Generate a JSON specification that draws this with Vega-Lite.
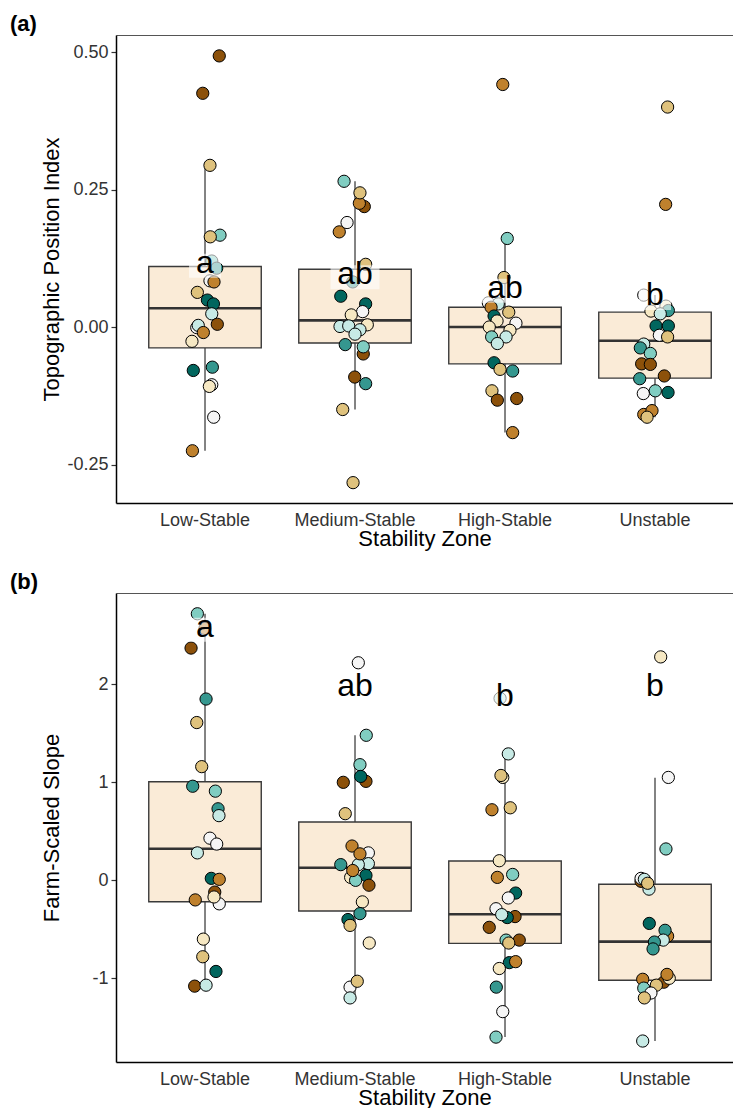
{
  "$schema": "https://vega.github.io/schema/vega-lite/v6.json",
  "background": "white",
  "padding": {"left": 10, "top": 13, "right": 0, "bottom": 0},
  "bounds": "flush",
  "spacing": 90,
  "config": {
    "font": "Liberation Sans",
    "view": {"stroke": null},
    "axis": {"grid": false},
    "axisLeft": {
      "domainColor": "black", "domainWidth": 1.5,
      "tickColor": "#333", "tickSize": 5, "tickWidth": 1.2,
      "labelFontSize": 18, "labelColor": "#333", "labelPadding": 3,
      "titleFontSize": 22, "titleFontWeight": "normal", "titleColor": "black",
      "titleBaseline": "alphabetic", "titleX": -58
    },
    "axisBottom": {
      "domainColor": "black", "domainWidth": 1.5,
      "ticks": false, "tickSize": 0,
      "labelFontSize": 18, "labelColor": "#333", "labelPadding": 8, "labelAngle": 0,
      "titleFontSize": 22, "titleFontWeight": "normal", "titleColor": "black",
      "titleBaseline": "alphabetic", "titleY": 42
    },
    "title": {"fontSize": 22, "fontWeight": "bold", "anchor": "start", "frame": "group", "baseline": "alphabetic", "offset": -1, "dx": -106, "color": "black"}
  },
  "datasets": {
    "tpi_boxes": [
      {"zone": "Low-Stable", "lower": -0.225, "q1": -0.038, "median": 0.034, "q3": 0.110, "upper": 0.294},
      {"zone": "Medium-Stable", "lower": -0.150, "q1": -0.029, "median": 0.012, "q3": 0.105, "upper": 0.265},
      {"zone": "High-Stable", "lower": -0.192, "q1": -0.067, "median": 0.000, "q3": 0.036, "upper": 0.161},
      {"zone": "Unstable", "lower": -0.164, "q1": -0.093, "median": -0.025, "q3": 0.027, "upper": 0.058}
    ],
    "tpi_labels": [
      {"zone": "Low-Stable", "letter": "a", "pos": 0.0988},
      {"zone": "Medium-Stable", "letter": "ab", "pos": 0.0776},
      {"zone": "High-Stable", "letter": "ab", "pos": 0.0533},
      {"zone": "Unstable", "letter": "b", "pos": 0.040}
    ],
    "tpi_points": [
      {"zone": "Low-Stable", "tpi": 0.493, "jitter": 0.095, "cls": 1},
      {"zone": "Low-Stable", "tpi": 0.425, "jitter": -0.015, "cls": 1},
      {"zone": "Low-Stable", "tpi": 0.294, "jitter": 0.033, "cls": 3},
      {"zone": "Low-Stable", "tpi": 0.167, "jitter": 0.100, "cls": 7},
      {"zone": "Low-Stable", "tpi": 0.164, "jitter": 0.035, "cls": 3},
      {"zone": "Low-Stable", "tpi": 0.120, "jitter": 0.045, "cls": 7},
      {"zone": "Low-Stable", "tpi": 0.107, "jitter": 0.078, "cls": 8},
      {"zone": "Low-Stable", "tpi": 0.084, "jitter": 0.033, "cls": 5},
      {"zone": "Low-Stable", "tpi": 0.082, "jitter": 0.060, "cls": 2},
      {"zone": "Low-Stable", "tpi": 0.063, "jitter": -0.051, "cls": 3},
      {"zone": "Low-Stable", "tpi": 0.049, "jitter": 0.016, "cls": 9},
      {"zone": "Low-Stable", "tpi": 0.042, "jitter": 0.056, "cls": 9},
      {"zone": "Low-Stable", "tpi": 0.024, "jitter": 0.045, "cls": 6},
      {"zone": "Low-Stable", "tpi": 0.005, "jitter": 0.082, "cls": 1},
      {"zone": "Low-Stable", "tpi": -0.001, "jitter": -0.055, "cls": 5},
      {"zone": "Low-Stable", "tpi": 0.003, "jitter": -0.045, "cls": 6},
      {"zone": "Low-Stable", "tpi": -0.010, "jitter": -0.011, "cls": 2},
      {"zone": "Low-Stable", "tpi": -0.026, "jitter": -0.087, "cls": 4},
      {"zone": "Low-Stable", "tpi": -0.079, "jitter": -0.078, "cls": 9},
      {"zone": "Low-Stable", "tpi": -0.073, "jitter": 0.049, "cls": 8},
      {"zone": "Low-Stable", "tpi": -0.105, "jitter": 0.045, "cls": 5},
      {"zone": "Low-Stable", "tpi": -0.108, "jitter": 0.029, "cls": 4},
      {"zone": "Low-Stable", "tpi": -0.164, "jitter": 0.058, "cls": 5},
      {"zone": "Low-Stable", "tpi": -0.225, "jitter": -0.084, "cls": 2},
      {"zone": "Medium-Stable", "tpi": 0.265, "jitter": -0.073, "cls": 7},
      {"zone": "Medium-Stable", "tpi": 0.219, "jitter": 0.062, "cls": 1},
      {"zone": "Medium-Stable", "tpi": 0.225, "jitter": 0.029, "cls": 2},
      {"zone": "Medium-Stable", "tpi": 0.244, "jitter": 0.033, "cls": 3},
      {"zone": "Medium-Stable", "tpi": 0.190, "jitter": -0.053, "cls": 5},
      {"zone": "Medium-Stable", "tpi": 0.173, "jitter": -0.105, "cls": 2},
      {"zone": "Medium-Stable", "tpi": 0.114, "jitter": 0.071, "cls": 3},
      {"zone": "Medium-Stable", "tpi": 0.082, "jitter": -0.015, "cls": 8},
      {"zone": "Medium-Stable", "tpi": 0.056, "jitter": -0.095, "cls": 9},
      {"zone": "Medium-Stable", "tpi": 0.042, "jitter": 0.071, "cls": 9},
      {"zone": "Medium-Stable", "tpi": 0.028, "jitter": 0.051, "cls": 5},
      {"zone": "Medium-Stable", "tpi": 0.022, "jitter": -0.025, "cls": 4},
      {"zone": "Medium-Stable", "tpi": 0.004, "jitter": 0.082, "cls": 4},
      {"zone": "Medium-Stable", "tpi": 0.001, "jitter": -0.100, "cls": 6},
      {"zone": "Medium-Stable", "tpi": 0.002, "jitter": -0.042, "cls": 6},
      {"zone": "Medium-Stable", "tpi": -0.005, "jitter": 0.033, "cls": 6},
      {"zone": "Medium-Stable", "tpi": -0.013, "jitter": 0.000, "cls": 6},
      {"zone": "Medium-Stable", "tpi": -0.032, "jitter": -0.065, "cls": 8},
      {"zone": "Medium-Stable", "tpi": -0.049, "jitter": 0.055, "cls": 1},
      {"zone": "Medium-Stable", "tpi": -0.036, "jitter": 0.055, "cls": 7},
      {"zone": "Medium-Stable", "tpi": -0.091, "jitter": -0.002, "cls": 1},
      {"zone": "Medium-Stable", "tpi": -0.103, "jitter": 0.071, "cls": 8},
      {"zone": "Medium-Stable", "tpi": -0.150, "jitter": -0.082, "cls": 3},
      {"zone": "Medium-Stable", "tpi": -0.283, "jitter": -0.013, "cls": 3},
      {"zone": "High-Stable", "tpi": 0.441, "jitter": -0.015, "cls": 2},
      {"zone": "High-Stable", "tpi": 0.161, "jitter": 0.015, "cls": 7},
      {"zone": "High-Stable", "tpi": 0.090, "jitter": -0.007, "cls": 3},
      {"zone": "High-Stable", "tpi": 0.044, "jitter": -0.111, "cls": 5},
      {"zone": "High-Stable", "tpi": 0.042, "jitter": -0.045, "cls": 6},
      {"zone": "High-Stable", "tpi": 0.036, "jitter": -0.093, "cls": 2},
      {"zone": "High-Stable", "tpi": 0.027, "jitter": 0.025, "cls": 3},
      {"zone": "High-Stable", "tpi": 0.020, "jitter": -0.073, "cls": 9},
      {"zone": "High-Stable", "tpi": 0.011, "jitter": -0.053, "cls": 4},
      {"zone": "High-Stable", "tpi": 0.007, "jitter": 0.073, "cls": 5},
      {"zone": "High-Stable", "tpi": 0.000, "jitter": -0.105, "cls": 4},
      {"zone": "High-Stable", "tpi": -0.006, "jitter": 0.033, "cls": 4},
      {"zone": "High-Stable", "tpi": -0.018, "jitter": -0.089, "cls": 7},
      {"zone": "High-Stable", "tpi": -0.018, "jitter": 0.007, "cls": 6},
      {"zone": "High-Stable", "tpi": -0.030, "jitter": -0.051, "cls": 6},
      {"zone": "High-Stable", "tpi": -0.065, "jitter": -0.073, "cls": 9},
      {"zone": "High-Stable", "tpi": -0.077, "jitter": -0.033, "cls": 3},
      {"zone": "High-Stable", "tpi": -0.080, "jitter": 0.051, "cls": 8},
      {"zone": "High-Stable", "tpi": -0.116, "jitter": -0.087, "cls": 3},
      {"zone": "High-Stable", "tpi": -0.133, "jitter": -0.051, "cls": 1},
      {"zone": "High-Stable", "tpi": -0.130, "jitter": 0.078, "cls": 1},
      {"zone": "High-Stable", "tpi": -0.192, "jitter": 0.051, "cls": 2},
      {"zone": "Unstable", "tpi": 0.400, "jitter": 0.084, "cls": 3},
      {"zone": "Unstable", "tpi": 0.223, "jitter": 0.071, "cls": 2},
      {"zone": "Unstable", "tpi": 0.058, "jitter": -0.075, "cls": 5},
      {"zone": "Unstable", "tpi": 0.029, "jitter": -0.027, "cls": 4},
      {"zone": "Unstable", "tpi": 0.038, "jitter": 0.073, "cls": 4},
      {"zone": "Unstable", "tpi": 0.030, "jitter": 0.089, "cls": 8},
      {"zone": "Unstable", "tpi": 0.024, "jitter": 0.035, "cls": 6},
      {"zone": "Unstable", "tpi": 0.002, "jitter": 0.007, "cls": 9},
      {"zone": "Unstable", "tpi": 0.002, "jitter": 0.089, "cls": 9},
      {"zone": "Unstable", "tpi": -0.015, "jitter": 0.029, "cls": 5},
      {"zone": "Unstable", "tpi": -0.018, "jitter": 0.084, "cls": 3},
      {"zone": "Unstable", "tpi": -0.031, "jitter": -0.075, "cls": 6},
      {"zone": "Unstable", "tpi": -0.038, "jitter": -0.098, "cls": 8},
      {"zone": "Unstable", "tpi": -0.048, "jitter": -0.031, "cls": 7},
      {"zone": "Unstable", "tpi": -0.067, "jitter": -0.089, "cls": 1},
      {"zone": "Unstable", "tpi": -0.068, "jitter": -0.031, "cls": 1},
      {"zone": "Unstable", "tpi": -0.089, "jitter": 0.062, "cls": 1},
      {"zone": "Unstable", "tpi": -0.094, "jitter": -0.102, "cls": 8},
      {"zone": "Unstable", "tpi": -0.121, "jitter": -0.078, "cls": 5},
      {"zone": "Unstable", "tpi": -0.116, "jitter": 0.002, "cls": 7},
      {"zone": "Unstable", "tpi": -0.119, "jitter": 0.087, "cls": 9},
      {"zone": "Unstable", "tpi": -0.159, "jitter": -0.075, "cls": 2},
      {"zone": "Unstable", "tpi": -0.152, "jitter": -0.020, "cls": 2},
      {"zone": "Unstable", "tpi": -0.164, "jitter": -0.053, "cls": 3}
    ],
    "slope_boxes": [
      {"zone": "Low-Stable", "lower": -1.08, "q1": -0.218, "median": 0.322, "q3": 1.006, "upper": 2.72},
      {"zone": "Medium-Stable", "lower": -1.20, "q1": -0.313, "median": 0.129, "q3": 0.595, "upper": 1.48},
      {"zone": "High-Stable", "lower": -1.60, "q1": -0.643, "median": -0.347, "q3": 0.197, "upper": 1.29},
      {"zone": "Unstable", "lower": -1.64, "q1": -1.02, "median": -0.626, "q3": -0.04, "upper": 1.047}
    ],
    "slope_labels": [
      {"zone": "Low-Stable", "letter": "a", "pos": 2.486},
      {"zone": "Medium-Stable", "letter": "ab", "pos": 1.88},
      {"zone": "High-Stable", "letter": "b", "pos": 1.78},
      {"zone": "Unstable", "letter": "b", "pos": 1.88}
    ],
    "slope_points": [
      {"zone": "Low-Stable", "slope": 2.72, "jitter": -0.051, "cls": 7},
      {"zone": "Low-Stable", "slope": 2.57, "jitter": 0.000, "cls": 2},
      {"zone": "Low-Stable", "slope": 2.37, "jitter": -0.093, "cls": 1},
      {"zone": "Low-Stable", "slope": 1.85, "jitter": 0.007, "cls": 8},
      {"zone": "Low-Stable", "slope": 1.61, "jitter": -0.055, "cls": 3},
      {"zone": "Low-Stable", "slope": 1.16, "jitter": -0.022, "cls": 3},
      {"zone": "Low-Stable", "slope": 0.96, "jitter": -0.082, "cls": 8},
      {"zone": "Low-Stable", "slope": 0.91, "jitter": 0.069, "cls": 7},
      {"zone": "Low-Stable", "slope": 0.73, "jitter": 0.087, "cls": 8},
      {"zone": "Low-Stable", "slope": 0.66, "jitter": 0.093, "cls": 6},
      {"zone": "Low-Stable", "slope": 0.43, "jitter": 0.033, "cls": 5},
      {"zone": "Low-Stable", "slope": 0.37, "jitter": 0.078, "cls": 5},
      {"zone": "Low-Stable", "slope": 0.28, "jitter": -0.051, "cls": 6},
      {"zone": "Low-Stable", "slope": 0.02, "jitter": 0.042, "cls": 9},
      {"zone": "Low-Stable", "slope": 0.01, "jitter": 0.095, "cls": 2},
      {"zone": "Low-Stable", "slope": -0.12, "jitter": 0.065, "cls": 1},
      {"zone": "Low-Stable", "slope": -0.24, "jitter": 0.095, "cls": 5},
      {"zone": "Low-Stable", "slope": -0.17, "jitter": 0.060, "cls": 4},
      {"zone": "Low-Stable", "slope": -0.20, "jitter": -0.065, "cls": 2},
      {"zone": "Low-Stable", "slope": -0.60, "jitter": -0.011, "cls": 4},
      {"zone": "Low-Stable", "slope": -0.78, "jitter": -0.015, "cls": 3},
      {"zone": "Low-Stable", "slope": -0.93, "jitter": 0.073, "cls": 9},
      {"zone": "Low-Stable", "slope": -1.08, "jitter": -0.069, "cls": 1},
      {"zone": "Low-Stable", "slope": -1.07, "jitter": 0.007, "cls": 6},
      {"zone": "Medium-Stable", "slope": 2.22, "jitter": 0.022, "cls": 5},
      {"zone": "Medium-Stable", "slope": 1.48, "jitter": 0.075, "cls": 7},
      {"zone": "Medium-Stable", "slope": 1.18, "jitter": 0.033, "cls": 7},
      {"zone": "Medium-Stable", "slope": 1.01, "jitter": 0.073, "cls": 1},
      {"zone": "Medium-Stable", "slope": 1.06, "jitter": 0.038, "cls": 9},
      {"zone": "Medium-Stable", "slope": 1.00, "jitter": -0.078, "cls": 1},
      {"zone": "Medium-Stable", "slope": 0.68, "jitter": -0.065, "cls": 3},
      {"zone": "Medium-Stable", "slope": 0.28, "jitter": 0.089, "cls": 5},
      {"zone": "Medium-Stable", "slope": 0.35, "jitter": -0.020, "cls": 2},
      {"zone": "Medium-Stable", "slope": 0.17, "jitter": 0.089, "cls": 6},
      {"zone": "Medium-Stable", "slope": 0.16, "jitter": 0.022, "cls": 6},
      {"zone": "Medium-Stable", "slope": 0.27, "jitter": 0.033, "cls": 2},
      {"zone": "Medium-Stable", "slope": 0.16, "jitter": -0.095, "cls": 8},
      {"zone": "Medium-Stable", "slope": 0.05, "jitter": 0.073, "cls": 9},
      {"zone": "Medium-Stable", "slope": 0.03, "jitter": -0.029, "cls": 4},
      {"zone": "Medium-Stable", "slope": 0.00, "jitter": 0.004, "cls": 7},
      {"zone": "Medium-Stable", "slope": 0.10, "jitter": -0.015, "cls": 2},
      {"zone": "Medium-Stable", "slope": -0.05, "jitter": 0.093, "cls": 1},
      {"zone": "Medium-Stable", "slope": -0.22, "jitter": 0.049, "cls": 4},
      {"zone": "Medium-Stable", "slope": -0.34, "jitter": 0.033, "cls": 8},
      {"zone": "Medium-Stable", "slope": -0.40, "jitter": -0.047, "cls": 9},
      {"zone": "Medium-Stable", "slope": -0.46, "jitter": -0.033, "cls": 3},
      {"zone": "Medium-Stable", "slope": -0.64, "jitter": 0.095, "cls": 4},
      {"zone": "Medium-Stable", "slope": -1.09, "jitter": -0.033, "cls": 5},
      {"zone": "Medium-Stable", "slope": -1.03, "jitter": 0.015, "cls": 3},
      {"zone": "Medium-Stable", "slope": -1.20, "jitter": -0.033, "cls": 6},
      {"zone": "High-Stable", "slope": 1.857, "jitter": -0.033, "cls": 6},
      {"zone": "High-Stable", "slope": 1.29, "jitter": 0.022, "cls": 6},
      {"zone": "High-Stable", "slope": 1.05, "jitter": -0.015, "cls": 4},
      {"zone": "High-Stable", "slope": 1.07, "jitter": -0.027, "cls": 3},
      {"zone": "High-Stable", "slope": 0.72, "jitter": -0.087, "cls": 2},
      {"zone": "High-Stable", "slope": 0.74, "jitter": 0.035, "cls": 3},
      {"zone": "High-Stable", "slope": 0.20, "jitter": -0.038, "cls": 4},
      {"zone": "High-Stable", "slope": 0.06, "jitter": 0.051, "cls": 7},
      {"zone": "High-Stable", "slope": 0.03, "jitter": -0.051, "cls": 2},
      {"zone": "High-Stable", "slope": -0.13, "jitter": 0.071, "cls": 9},
      {"zone": "High-Stable", "slope": -0.18, "jitter": 0.022, "cls": 5},
      {"zone": "High-Stable", "slope": -0.29, "jitter": -0.060, "cls": 5},
      {"zone": "High-Stable", "slope": -0.37, "jitter": 0.067, "cls": 1},
      {"zone": "High-Stable", "slope": -0.38, "jitter": 0.015, "cls": 9},
      {"zone": "High-Stable", "slope": -0.35, "jitter": -0.022, "cls": 6},
      {"zone": "High-Stable", "slope": -0.48, "jitter": -0.105, "cls": 1},
      {"zone": "High-Stable", "slope": -0.61, "jitter": 0.095, "cls": 1},
      {"zone": "High-Stable", "slope": -0.61, "jitter": 0.007, "cls": 7},
      {"zone": "High-Stable", "slope": -0.64, "jitter": 0.025, "cls": 3},
      {"zone": "High-Stable", "slope": -0.84, "jitter": 0.029, "cls": 9},
      {"zone": "High-Stable", "slope": -0.83, "jitter": 0.071, "cls": 2},
      {"zone": "High-Stable", "slope": -0.90, "jitter": -0.038, "cls": 4},
      {"zone": "High-Stable", "slope": -1.09, "jitter": -0.058, "cls": 8},
      {"zone": "High-Stable", "slope": -1.34, "jitter": -0.015, "cls": 5},
      {"zone": "High-Stable", "slope": -1.60, "jitter": -0.060, "cls": 7},
      {"zone": "Unstable", "slope": 2.28, "jitter": 0.038, "cls": 4},
      {"zone": "Unstable", "slope": 1.05, "jitter": 0.089, "cls": 5},
      {"zone": "Unstable", "slope": 0.32, "jitter": 0.073, "cls": 7},
      {"zone": "Unstable", "slope": -0.01, "jitter": -0.093, "cls": 1},
      {"zone": "Unstable", "slope": 0.02, "jitter": -0.093, "cls": 5},
      {"zone": "Unstable", "slope": 0.01, "jitter": -0.071, "cls": 6},
      {"zone": "Unstable", "slope": -0.09, "jitter": -0.040, "cls": 6},
      {"zone": "Unstable", "slope": -0.03, "jitter": -0.049, "cls": 3},
      {"zone": "Unstable", "slope": -0.44, "jitter": -0.038, "cls": 9},
      {"zone": "Unstable", "slope": -0.57, "jitter": 0.084, "cls": 2},
      {"zone": "Unstable", "slope": -0.51, "jitter": 0.067, "cls": 8},
      {"zone": "Unstable", "slope": -0.61, "jitter": 0.055, "cls": 6},
      {"zone": "Unstable", "slope": -0.63, "jitter": -0.004, "cls": 8},
      {"zone": "Unstable", "slope": -0.70, "jitter": -0.013, "cls": 8},
      {"zone": "Unstable", "slope": -1.04, "jitter": 0.058, "cls": 1},
      {"zone": "Unstable", "slope": -1.00, "jitter": 0.095, "cls": 4},
      {"zone": "Unstable", "slope": -0.96, "jitter": 0.080, "cls": 2},
      {"zone": "Unstable", "slope": -1.01, "jitter": -0.082, "cls": 2},
      {"zone": "Unstable", "slope": -1.10, "jitter": -0.075, "cls": 7},
      {"zone": "Unstable", "slope": -1.07, "jitter": 0.009, "cls": 3},
      {"zone": "Unstable", "slope": -1.15, "jitter": -0.027, "cls": 5},
      {"zone": "Unstable", "slope": -1.20, "jitter": -0.071, "cls": 3},
      {"zone": "Unstable", "slope": -1.64, "jitter": -0.082, "cls": 6}
    ]
  },
  "vconcat": [
    {
      "width": 617,
      "height": 468,
      "title": {"text": "(a)"},
      "resolve": {"axis": {"x": "independent"}},
      "layer": [
        {
          "data": {"name": "tpi_boxes"},
          "mark": {"type": "rule", "color": "#5a5a5a", "strokeWidth": 1.5},
          "encoding": {
            "x": {"field": "zone", "type": "nominal", "sort": ["Low-Stable", "Medium-Stable", "High-Stable", "Unstable"], "title": "Stability Zone",
                  "scale": {"paddingInner": 0.25, "paddingOuter": 0.1817, "align": 0.601}},
            "y": {"field": "lower", "type": "quantitative", "title": "Topographic Position Index",
                  "scale": {"domain": [-0.32, 0.531], "nice": false, "zero": false},
                  "axis": {"values": [-0.25, 0, 0.25, 0.5], "labelExpr": "replace(format(datum.value, '.2f'), '\u2212', '-')"}},
            "y2": {"field": "upper"}
          }
        },
        {
          "data": {"name": "tpi_boxes"},
          "mark": {"type": "bar", "fill": "#FAEBD7", "stroke": "#3a3a3a", "strokeWidth": 1.4, "width": 112.5},
          "encoding": {
            "x": {"field": "zone", "type": "nominal", "sort": ["Low-Stable", "Medium-Stable", "High-Stable", "Unstable"],
                  "axis": {"orient": "top", "labels": false, "ticks": false, "title": null, "domainColor": "#555", "domainWidth": 1}},
            "y": {"field": "q1", "type": "quantitative", "title": "Topographic Position Index"},
            "y2": {"field": "q3"}
          }
        },
        {
          "data": {"name": "tpi_boxes"},
          "mark": {"type": "tick", "color": "#333", "thickness": 2.6, "size": 112.5, "opacity": 1},
          "encoding": {
            "x": {"field": "zone", "type": "nominal", "sort": ["Low-Stable", "Medium-Stable", "High-Stable", "Unstable"], "axis": null},
            "y": {"field": "median", "type": "quantitative", "title": "Topographic Position Index"}
          }
        },
        {
          "data": {"name": "tpi_points"},
          "mark": {"type": "circle", "size": 150, "stroke": "black", "strokeWidth": 1, "opacity": 1},
          "encoding": {
            "x": {"field": "zone", "type": "nominal", "sort": ["Low-Stable", "Medium-Stable", "High-Stable", "Unstable"], "axis": null},
            "xOffset": {"field": "jitter", "type": "quantitative", "scale": {"domain": [-0.375, 0.375]}},
            "y": {"field": "tpi", "type": "quantitative", "title": "Topographic Position Index"},
            "fill": {"field": "cls", "type": "nominal", "legend": null,
                     "scale": {"domain": [1, 2, 3, 4, 5, 6, 7, 8, 9], "range": ["#8c510a", "#bf812d", "#dfc27d", "#f6e8c3", "#f5f5f5", "#c7eae5", "#80cdc1", "#35978f", "#01665e"]}}
          }
        },
        {
          "data": {"name": "tpi_labels"},
          "transform": [{"filter": "length(datum.letter) == 1"}],
          "mark": {"type": "point", "shape": "M-1,-0.75H1V0.75H-1Z", "size": 1024, "filled": true, "color": "white", "opacity": 0.6, "yOffset": -7},
          "encoding": {
            "x": {"field": "zone", "type": "nominal", "sort": ["Low-Stable", "Medium-Stable", "High-Stable", "Unstable"], "axis": null},
            "y": {"field": "pos", "type": "quantitative", "title": "Topographic Position Index"}
          }
        },
        {
          "data": {"name": "tpi_labels"},
          "transform": [{"filter": "length(datum.letter) == 2"}],
          "mark": {"type": "point", "shape": "M-1,-0.49H1V0.49H-1Z", "size": 2401, "filled": true, "color": "white", "opacity": 0.6, "yOffset": -7},
          "encoding": {
            "x": {"field": "zone", "type": "nominal", "sort": ["Low-Stable", "Medium-Stable", "High-Stable", "Unstable"], "axis": null},
            "y": {"field": "pos", "type": "quantitative", "title": "Topographic Position Index"}
          }
        },
        {
          "data": {"name": "tpi_labels"},
          "mark": {"type": "text", "fontSize": 32, "baseline": "alphabetic", "align": "center", "color": "black"},
          "encoding": {
            "x": {"field": "zone", "type": "nominal", "sort": ["Low-Stable", "Medium-Stable", "High-Stable", "Unstable"], "axis": null},
            "y": {"field": "pos", "type": "quantitative", "title": "Topographic Position Index"},
            "text": {"field": "letter"}
          }
        }
      ]
    },
    {
      "width": 617,
      "height": 469,
      "title": {"text": "(b)"},
      "resolve": {"axis": {"x": "independent"}},
      "layer": [
        {
          "data": {"name": "slope_boxes"},
          "mark": {"type": "rule", "color": "#5a5a5a", "strokeWidth": 1.5},
          "encoding": {
            "x": {"field": "zone", "type": "nominal", "sort": ["Low-Stable", "Medium-Stable", "High-Stable", "Unstable"], "title": "Stability Zone",
                  "scale": {"paddingInner": 0.25, "paddingOuter": 0.1817, "align": 0.601}},
            "y": {"field": "lower", "type": "quantitative", "title": "Farm-Scaled Slope",
                  "scale": {"domain": [-1.854, 2.932], "nice": false, "zero": false},
                  "axis": {"values": [-1, 0, 1, 2], "labelExpr": "replace(format(datum.value, 'd'), '\u2212', '-')"}},
            "y2": {"field": "upper"}
          }
        },
        {
          "data": {"name": "slope_boxes"},
          "mark": {"type": "bar", "fill": "#FAEBD7", "stroke": "#3a3a3a", "strokeWidth": 1.4, "width": 112.5},
          "encoding": {
            "x": {"field": "zone", "type": "nominal", "sort": ["Low-Stable", "Medium-Stable", "High-Stable", "Unstable"],
                  "axis": {"orient": "top", "labels": false, "ticks": false, "title": null, "domainColor": "#555", "domainWidth": 1}},
            "y": {"field": "q1", "type": "quantitative", "title": "Farm-Scaled Slope"},
            "y2": {"field": "q3"}
          }
        },
        {
          "data": {"name": "slope_boxes"},
          "mark": {"type": "tick", "color": "#333", "thickness": 2.6, "size": 112.5, "opacity": 1},
          "encoding": {
            "x": {"field": "zone", "type": "nominal", "sort": ["Low-Stable", "Medium-Stable", "High-Stable", "Unstable"], "axis": null},
            "y": {"field": "median", "type": "quantitative", "title": "Farm-Scaled Slope"}
          }
        },
        {
          "data": {"name": "slope_points"},
          "mark": {"type": "circle", "size": 150, "stroke": "black", "strokeWidth": 1, "opacity": 1},
          "encoding": {
            "x": {"field": "zone", "type": "nominal", "sort": ["Low-Stable", "Medium-Stable", "High-Stable", "Unstable"], "axis": null},
            "xOffset": {"field": "jitter", "type": "quantitative", "scale": {"domain": [-0.375, 0.375]}},
            "y": {"field": "slope", "type": "quantitative", "title": "Farm-Scaled Slope"},
            "fill": {"field": "cls", "type": "nominal", "legend": null,
                     "scale": {"domain": [1, 2, 3, 4, 5, 6, 7, 8, 9], "range": ["#8c510a", "#bf812d", "#dfc27d", "#f6e8c3", "#f5f5f5", "#c7eae5", "#80cdc1", "#35978f", "#01665e"]}}
          }
        },
        {
          "data": {"name": "slope_labels"},
          "transform": [{"filter": "length(datum.letter) == 1"}],
          "mark": {"type": "point", "shape": "M-1,-0.75H1V0.75H-1Z", "size": 1024, "filled": true, "color": "white", "opacity": 0.6, "yOffset": -7},
          "encoding": {
            "x": {"field": "zone", "type": "nominal", "sort": ["Low-Stable", "Medium-Stable", "High-Stable", "Unstable"], "axis": null},
            "y": {"field": "pos", "type": "quantitative", "title": "Farm-Scaled Slope"}
          }
        },
        {
          "data": {"name": "slope_labels"},
          "transform": [{"filter": "length(datum.letter) == 2"}],
          "mark": {"type": "point", "shape": "M-1,-0.49H1V0.49H-1Z", "size": 2401, "filled": true, "color": "white", "opacity": 0.6, "yOffset": -7},
          "encoding": {
            "x": {"field": "zone", "type": "nominal", "sort": ["Low-Stable", "Medium-Stable", "High-Stable", "Unstable"], "axis": null},
            "y": {"field": "pos", "type": "quantitative", "title": "Farm-Scaled Slope"}
          }
        },
        {
          "data": {"name": "slope_labels"},
          "mark": {"type": "text", "fontSize": 32, "baseline": "alphabetic", "align": "center", "color": "black"},
          "encoding": {
            "x": {"field": "zone", "type": "nominal", "sort": ["Low-Stable", "Medium-Stable", "High-Stable", "Unstable"], "axis": null},
            "y": {"field": "pos", "type": "quantitative", "title": "Farm-Scaled Slope"},
            "text": {"field": "letter"}
          }
        }
      ]
    }
  ]
}
